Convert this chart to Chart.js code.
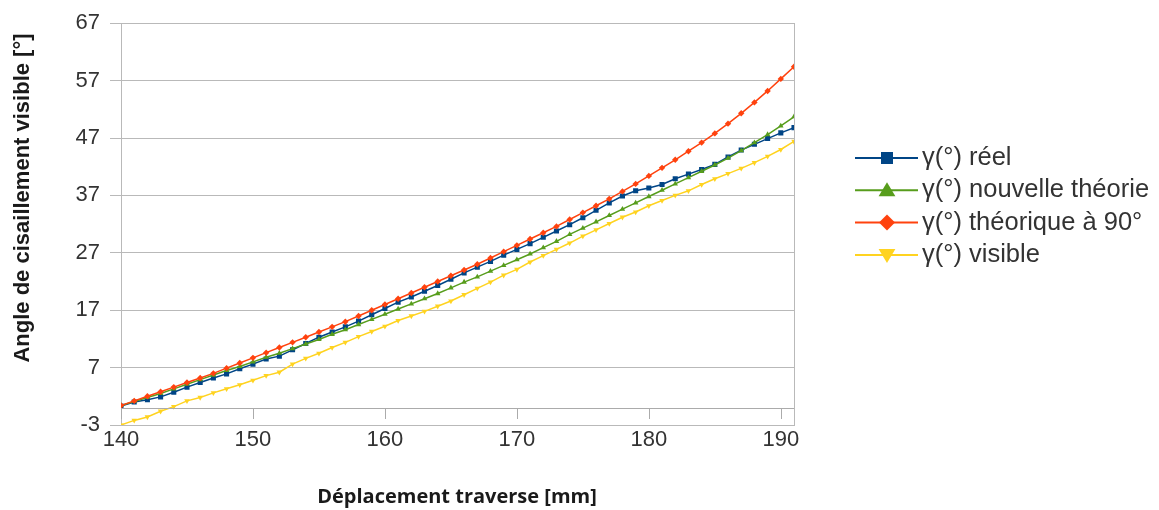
<!DOCTYPE html>
<html><head><meta charset="utf-8">
<script src="https://cdn.jsdelivr.net/npm/chart.js@4/dist/chart.umd.min.js"></script>
<style>html,body{margin:0;padding:0;background:#fff}#wrap{width:1159px;height:510px}</style>
</head><body><div id="wrap"><canvas id="c" width="1159" height="510"></canvas></div>
<script>
const deplacement = [140,141,142,143,144,145,146,147,148,149,150,151,152,153,154,155,156,157,158,159,160,161,162,163,164,165,166,167,168,169,170,171,172,173,174,175,176,177,178,179,180,181,182,183,184,185,186,187,188,189,190,191];
const gammaReel = [0.3,1.0,1.4,1.9,2.7,3.6,4.4,5.2,5.9,6.8,7.6,8.5,9.0,10.1,11.2,12.3,13.2,14.1,15.1,16.2,17.3,18.4,19.3,20.3,21.3,22.4,23.5,24.5,25.5,26.6,27.6,28.6,29.7,30.8,31.9,33.1,34.4,35.7,36.9,37.8,38.3,38.9,39.9,40.7,41.5,42.4,43.7,44.9,45.9,46.9,47.9,48.8];
const gammaNouvelle = [0.4,1.1,1.8,2.5,3.3,4.1,4.9,5.7,6.5,7.2,8.0,8.8,9.5,10.3,11.1,11.9,12.8,13.6,14.5,15.4,16.3,17.2,18.1,19.0,19.9,20.9,21.9,22.8,23.8,24.8,25.8,26.8,27.9,29.0,30.2,31.3,32.4,33.5,34.6,35.7,36.8,37.9,39.0,40.1,41.2,42.3,43.5,44.8,46.2,47.6,49.1,50.7];
const gammaTheorique90 = [0.4,1.2,2.0,2.8,3.6,4.4,5.2,6.0,6.9,7.8,8.7,9.6,10.5,11.4,12.3,13.2,14.1,15.0,16.0,17.0,18.0,19.0,20.0,21.0,22.0,23.0,24.0,25.0,26.1,27.2,28.3,29.4,30.5,31.6,32.8,34.0,35.2,36.4,37.7,39.0,40.4,41.8,43.2,44.7,46.2,47.8,49.5,51.3,53.2,55.2,57.3,59.4];
const gammaVisible = [-3.0,-2.2,-1.6,-0.6,0.2,1.2,1.8,2.6,3.3,4.0,4.8,5.6,6.2,7.6,8.6,9.5,10.5,11.4,12.4,13.3,14.2,15.2,16.0,16.8,17.7,18.6,19.7,20.8,21.9,23.1,24.1,25.4,26.5,27.6,28.7,29.9,31.0,32.1,33.2,34.1,35.2,36.1,37.0,37.8,38.9,39.9,40.8,41.7,42.7,43.8,45.0,46.4];
const xTicks = [140,150,160,170,180,190];
const yTicks = [-3,7,17,27,37,47,57,67];
const seriesLabels = ['γ(°) réel','γ(°) nouvelle théorie','γ(°) théorique à 90°','γ(°) visible'];
const xTitle = 'Déplacement traverse [mm]';
const yTitle = 'Angle de cisaillement visible [°]';

const colors = ['#004586','#579d1c','#ff420e','#ffd320'];
const styles = ['rect','triangle','rectRot','triangle'];
const rotations = [0,0,0,180];
const radii = [3.6,3.2,3.2,3.2];
const seriesData = [gammaReel, gammaNouvelle, gammaTheorique90, gammaVisible];

const GRID = '#b9b9b9';
const datasets = seriesData.map((arr,i)=>({
  label: seriesLabels[i],
  data: deplacement.map((x,k)=>({x:x, y:arr[k]})),
  borderColor: colors[i], backgroundColor: colors[i],
  borderWidth: 1.5, pointStyle: styles[i], pointRotation: rotations[i],
  pointRadius: radii[i], pointBorderWidth: 0, tension: 0, order: 4-i
}));

function drawMarker(ctx, style, rot, x, y, r, color){
  ctx.fillStyle = color; ctx.beginPath();
  if (style==='rect'){ ctx.rect(x-r, y-r, 2*r, 2*r); }
  else if (style==='rectRot'){ ctx.moveTo(x, y-r); ctx.lineTo(x+r, y); ctx.lineTo(x, y+r); ctx.lineTo(x-r, y); ctx.closePath(); }
  else if (style==='triangle'){
    const s = rot===180 ? -1 : 1;
    ctx.moveTo(x, y - s*r); ctx.lineTo(x + r*1.05, y + s*r*0.75); ctx.lineTo(x - r*1.05, y + s*r*0.75); ctx.closePath();
  }
  ctx.fill();
}

function drawZeroAxis(chart){
  const ctx = chart.ctx, xs = chart.scales.x, ys = chart.scales.y;
  const area = chart.chartArea;
  const yz = Math.round(ys.getPixelForValue(0)) + 0.5;
  ctx.save();
  ctx.fillStyle = '#ababab';
  ctx.fillRect(area.left, yz - 0.5, area.right - area.left, 1);
  for (const v of xTicks){
    const px = Math.round(xs.getPixelForValue(v));
    ctx.fillRect(px, yz - 0.5, 1, 11);
  }
  ctx.restore();
}

const overlay = {
  id:'overlay',
  afterDraw(chart){
    const ctx = chart.ctx;
    drawZeroAxis(chart);

    ctx.save();
    ctx.fillStyle = '#1a1a1a';
    ctx.font = 'bold 22px "Liberation Sans"';
    ctx.textAlign = 'center'; ctx.textBaseline = 'middle';
    ctx.translate(23, 198); ctx.rotate(-Math.PI/2);
    ctx.fillText(yTitle, 0, 0);
    ctx.restore();

    ctx.save();
    ctx.fillStyle = '#1a1a1a';
    ctx.font = 'bold 20px "Open Sans"';
    ctx.textAlign = 'center'; ctx.textBaseline = 'middle';
    ctx.fillText(xTitle, 457, 497);
    ctx.restore();

    ctx.save();
    const y0 = 158, step = 32.3;
    seriesLabels.forEach((lab,i)=>{
      const y = y0 + i*step;
      ctx.strokeStyle = colors[i]; ctx.lineWidth = 2;
      ctx.beginPath(); ctx.moveTo(855, y); ctx.lineTo(918, y); ctx.stroke();
      drawMarker(ctx, styles[i], rotations[i], 887, y, i===0?6:8, colors[i]);
      ctx.fillStyle = '#333';
      ctx.font = '25.5px "Liberation Sans"';
      ctx.textAlign = 'left'; ctx.textBaseline = 'middle';
      ctx.fillText(lab, 922, y);
    });
    ctx.restore();
  }
};

const tickFont = {family:'Liberation Sans', size:22};
new Chart(document.getElementById('c'), {
  type:'line',
  data:{datasets},
  options:{
    responsive:false, animation:false, devicePixelRatio:1,
    layout:{padding:{top:20,right:365,left:0,bottom:0}},
    plugins:{legend:{display:false}, tooltip:{enabled:false}},
    scales:{
      x:{type:'linear', min:140, max:191, position:'bottom',
        afterBuildTicks:s=>{s.ticks = xTicks.map(v=>({value:v}));},
        afterFit:s=>{s.height=85;},
        grid:{display:true, drawOnChartArea:false, drawTicks:false, color:GRID},
        border:{display:true, color:GRID},
        ticks:{font:tickFont, color:'#333', padding:2, maxRotation:0, autoSkip:false}
      },
      y:{type:'linear', min:-3, max:67, position:'left',
        afterBuildTicks:s=>{s.ticks = yTicks.map(v=>({value:v}));},
        afterFit:s=>{s.width=121;},
        grid:{color:GRID, tickLength:11},
        border:{display:true, color:GRID},
        ticks:{font:tickFont, color:'#333', padding:10}
      },
      yR:{type:'linear', min:-3, max:67, position:'right',
        afterFit:s=>{s.width=0;},
        grid:{display:true, drawOnChartArea:false, drawTicks:false, color:GRID},
        border:{display:true, color:GRID},
        ticks:{display:false}
      }
    }
  },
  plugins:[overlay]
});
</script>
</body></html>
